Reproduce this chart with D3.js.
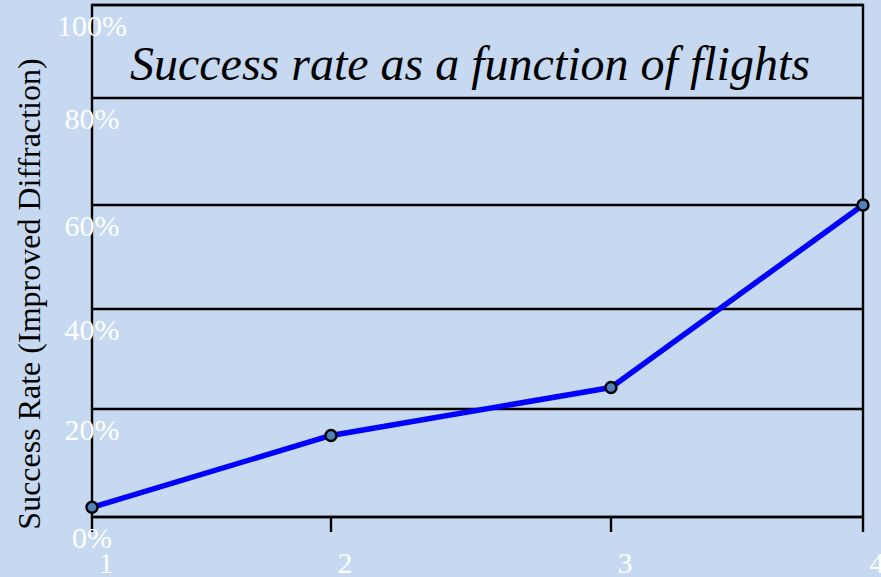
<!DOCTYPE html>
<html>
<head>
<meta charset="utf-8">
<script src="https://cdn.jsdelivr.net/npm/d3@7"></script>
<style>
  html, body { margin: 0; padding: 0; background: #c6d9f1; }
  svg { display: block; }
  text { font-family: "Liberation Serif", "Times New Roman", serif; }
</style>
</head>
<body>
<svg id="chart" width="881" height="577"></svg>
<script>
// Flights and measured success rate (%)
const flights = [1, 2, 3, 4];
const successRate = [1.8, 15.1, 24.3, 60];
const yTicks = [0, 20, 40, 60, 80, 100];
const yTickLabels = ["0%", "20%", "40%", "60%", "80%", "100%"];
const xTickLabels = ["1", "2", "3", "4"];
const titleText = "Success rate as a function of flights";
const yTitleText = "Success Rate (Improved Diffraction)";

const svg = d3.select("#chart");
const W = 881, H = 577;
const plot = { left: 92, right: 863, top: 5, bottom: 517 };

svg.append("rect").attr("width", W).attr("height", H).attr("fill", "#c6d9f1");

// Axis scales (the category bands are not evenly spaced)
const x = d3.scaleLinear()
  .domain(flights)
  .range([plot.left, 331, 611, plot.right]);
const y = d3.scaleLinear()
  .domain(yTicks)
  .range([plot.bottom, 409, 309, 205, 98, plot.top]);

// Horizontal gridlines
svg.append("g").selectAll("line")
  .data(yTicks)
  .join("line")
  .attr("x1", plot.left).attr("x2", plot.right)
  .attr("y1", d => y(d)).attr("y2", d => y(d))
  .attr("stroke", "#000").attr("stroke-width", 2.4);

// Plot frame
svg.append("rect")
  .attr("x", plot.left).attr("y", plot.top)
  .attr("width", plot.right - plot.left).attr("height", plot.bottom - plot.top)
  .attr("fill", "none").attr("stroke", "#000").attr("stroke-width", 2.4);

// X axis ticks
svg.append("g").selectAll("line")
  .data(flights)
  .join("line")
  .attr("x1", d => x(d)).attr("x2", d => x(d))
  .attr("y1", plot.bottom).attr("y2", plot.bottom + 15)
  .attr("stroke", "#000").attr("stroke-width", 2.4);

// X tick labels
svg.append("g").selectAll("text")
  .data(flights)
  .join("text")
  .attr("x", d => x(d) + 14)
  .attr("y", 573)
  .attr("text-anchor", "middle")
  .attr("fill", "#fff")
  .attr("font-size", 30)
  .text((d, i) => xTickLabels[i]);

// Y tick labels, drawn under each gridline
svg.append("g").selectAll("text")
  .data(yTicks)
  .join("text")
  .attr("x", plot.left)
  .attr("y", d => y(d) + 31)
  .attr("text-anchor", "middle")
  .attr("fill", "#fff")
  .attr("font-size", 30)
  .text((d, i) => yTickLabels[i]);

// Title inside the plot
svg.append("text")
  .attr("x", 130).attr("y", 80)
  .attr("font-size", 48)
  .attr("font-style", "italic")
  .attr("fill", "#000")
  .text(titleText);

// Y axis title
svg.append("text")
  .attr("transform", "translate(40,294) rotate(-90)")
  .attr("text-anchor", "middle")
  .attr("font-size", 32)
  .attr("fill", "#000")
  .text(yTitleText);

// Data line
const pts = flights.map((f, i) => [f, successRate[i]]);
svg.append("path")
  .datum(pts)
  .attr("d", d3.line().x(d => x(d[0])).y(d => y(d[1])))
  .attr("fill", "none")
  .attr("stroke", "#0000ff")
  .attr("stroke-width", 5.5)
  .attr("stroke-linejoin", "round");

// Markers
svg.append("g").selectAll("circle")
  .data(pts)
  .join("circle")
  .attr("cx", d => x(d[0])).attr("cy", d => y(d[1]))
  .attr("r", 5.5)
  .attr("fill", "#4f81bd")
  .attr("stroke", "#000")
  .attr("stroke-width", 2.4);
</script>
</body>
</html>
